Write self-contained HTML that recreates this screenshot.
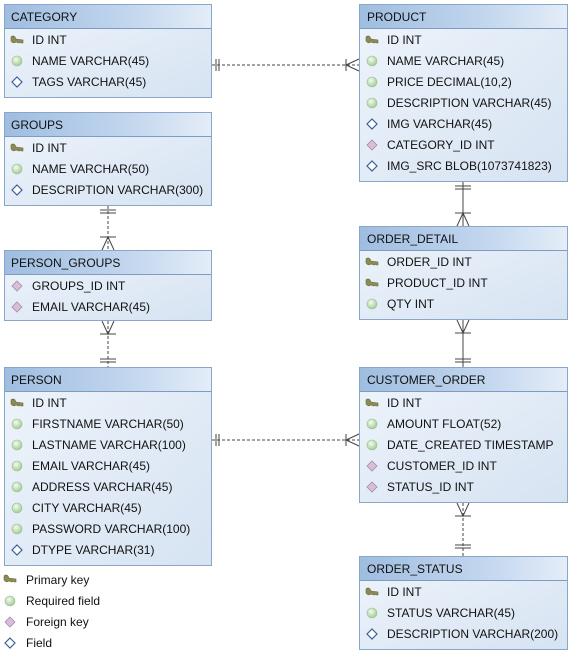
<!DOCTYPE html>
<html><head><meta charset="utf-8"><style>
html,body{margin:0;padding:0;background:#fff;}
svg{display:block;}
text{font-family:"Liberation Sans",Arial,sans-serif;font-size:12px;fill:#111;}
</style></head><body>
<svg width="573" height="653" viewBox="0 0 573 653" xmlns="http://www.w3.org/2000/svg">
<defs>
<linearGradient id="hd" x1="0" y1="0" x2="1" y2="0">
<stop offset="0" stop-color="#9fbde0"/><stop offset="0.6" stop-color="#c2d6ee"/><stop offset="1" stop-color="#e4edf8"/></linearGradient>
<linearGradient id="bd" x1="0" y1="0" x2="1" y2="1">
<stop offset="0" stop-color="#eef4fb"/><stop offset="1" stop-color="#d6e3f2"/></linearGradient>
<radialGradient id="gr" cx="0.4" cy="0.35" r="0.7"><stop offset="0" stop-color="#f4fbef"/><stop offset="1" stop-color="#9cc88c"/></radialGradient>
<symbol id="key" viewBox="0 0 14 10" width="14" height="10">
<path d="M1 2 Q3 0 5 2 L6 4 L13 5 L13 8 L11 8 L10 7 L9 8 L6 7 Q3 9 1 6 Z" fill="#8c8a55" stroke="#6d6b3e" stroke-width="0.6"/></symbol>
<symbol id="req" viewBox="0 0 12 12" width="12" height="12"><circle cx="6" cy="6" r="5" fill="url(#gr)" stroke="#9bbd90" stroke-width="0.6"/></symbol>
<symbol id="fk" viewBox="0 0 12 12" width="12" height="12"><path d="M6 1 L11 6 L6 11 L1 6 Z" fill="#d8bfd8" stroke="#a88aa8" stroke-width="0.8"/></symbol>
<symbol id="fld" viewBox="0 0 12 12" width="12" height="12"><path d="M6 1 L11 6 L6 11 L1 6 Z" fill="#fff" stroke="#3a5f9a" stroke-width="1.2"/></symbol>
</defs>

<g stroke="#444" stroke-width="1" fill="none">
<line x1="212" y1="65" x2="359" y2="65" stroke-dasharray="3,2"/>
<line x1="216" y1="59" x2="216" y2="71"/><line x1="219" y1="59" x2="219" y2="71"/>
<line x1="346" y1="59" x2="346" y2="71"/><path d="M359 59 L346 65 L359 71"/>
<line x1="212" y1="440" x2="359" y2="440" stroke-dasharray="3,2"/>
<line x1="216" y1="434" x2="216" y2="446"/><line x1="219" y1="434" x2="219" y2="446"/>
<line x1="346" y1="434" x2="346" y2="446"/><path d="M359 434 L346 440 L359 446"/>
<line x1="108" y1="206" x2="108" y2="250" stroke-dasharray="3,2"/>
<line x1="100" y1="210" x2="116" y2="210"/><line x1="100" y1="213" x2="116" y2="213"/>
<line x1="100" y1="237" x2="116" y2="237"/><path d="M102 250 L108 237 L114 250"/>
<line x1="108" y1="321" x2="108" y2="367" stroke-dasharray="3,2"/>
<path d="M102 321 L108 334 L114 321"/><line x1="100" y1="334" x2="116" y2="334"/>
<line x1="100" y1="359" x2="116" y2="359"/><line x1="100" y1="362" x2="116" y2="362"/>
<line x1="463" y1="182" x2="463" y2="226"/>
<line x1="455" y1="186" x2="471" y2="186"/><line x1="455" y1="189" x2="471" y2="189"/>
<line x1="455" y1="213" x2="471" y2="213"/><path d="M457 226 L463 213 L469 226"/>
<line x1="463" y1="320" x2="463" y2="367"/>
<path d="M457 320 L463 333 L469 320"/><line x1="455" y1="333" x2="471" y2="333"/>
<line x1="455" y1="359" x2="471" y2="359"/><line x1="455" y1="362" x2="471" y2="362"/>
<line x1="463" y1="503" x2="463" y2="556" stroke-dasharray="3,2"/>
<path d="M457 503 L463 516 L469 503"/><line x1="455" y1="516" x2="471" y2="516"/>
<line x1="455" y1="545" x2="471" y2="545"/><line x1="455" y1="548" x2="471" y2="548"/>
</g>

<g>
<rect x="4.5" y="4.5" width="207" height="93" fill="url(#bd)" stroke="#8aa6c8"/>
<rect x="5" y="5" width="206" height="23" fill="url(#hd)"/><line x1="5" y1="28.5" x2="211" y2="28.5" stroke="#7e9cc2"/>
<text x="11" y="21">CATEGORY</text>
<use href="#key" x="10" y="35"/><text x="32" y="44">ID INT</text>
<use href="#req" x="11" y="55"/><text x="32" y="65">NAME VARCHAR(45)</text>
<use href="#fld" x="11" y="76"/><text x="32" y="86">TAGS VARCHAR(45)</text>
</g>
<g>
<rect x="4.5" y="112.5" width="207" height="93" fill="url(#bd)" stroke="#8aa6c8"/>
<rect x="5" y="113" width="206" height="23" fill="url(#hd)"/><line x1="5" y1="136.5" x2="211" y2="136.5" stroke="#7e9cc2"/>
<text x="11" y="129">GROUPS</text>
<use href="#key" x="10" y="143"/><text x="32" y="152">ID INT</text>
<use href="#req" x="11" y="163"/><text x="32" y="173">NAME VARCHAR(50)</text>
<use href="#fld" x="11" y="184"/><text x="32" y="194">DESCRIPTION VARCHAR(300)</text>
</g>
<g>
<rect x="4.5" y="250.5" width="207" height="70" fill="url(#bd)" stroke="#8aa6c8"/>
<rect x="5" y="251" width="206" height="23" fill="url(#hd)"/><line x1="5" y1="274.5" x2="211" y2="274.5" stroke="#7e9cc2"/>
<text x="11" y="267">PERSON_GROUPS</text>
<use href="#fk" x="11" y="280"/><text x="32" y="290">GROUPS_ID INT</text>
<use href="#fk" x="11" y="301"/><text x="32" y="311">EMAIL VARCHAR(45)</text>
</g>
<g>
<rect x="4.5" y="367.5" width="207" height="198" fill="url(#bd)" stroke="#8aa6c8"/>
<rect x="5" y="368" width="206" height="23" fill="url(#hd)"/><line x1="5" y1="391.5" x2="211" y2="391.5" stroke="#7e9cc2"/>
<text x="11" y="384">PERSON</text>
<use href="#key" x="10" y="398"/><text x="32" y="407">ID INT</text>
<use href="#req" x="11" y="418"/><text x="32" y="428">FIRSTNAME VARCHAR(50)</text>
<use href="#req" x="11" y="439"/><text x="32" y="449">LASTNAME VARCHAR(100)</text>
<use href="#req" x="11" y="460"/><text x="32" y="470">EMAIL VARCHAR(45)</text>
<use href="#req" x="11" y="481"/><text x="32" y="491">ADDRESS VARCHAR(45)</text>
<use href="#req" x="11" y="502"/><text x="32" y="512">CITY VARCHAR(45)</text>
<use href="#req" x="11" y="523"/><text x="32" y="533">PASSWORD VARCHAR(100)</text>
<use href="#fld" x="11" y="544"/><text x="32" y="554">DTYPE VARCHAR(31)</text>
</g>
<g>
<rect x="359.5" y="4.5" width="208" height="177" fill="url(#bd)" stroke="#8aa6c8"/>
<rect x="360" y="5" width="207" height="23" fill="url(#hd)"/><line x1="360" y1="28.5" x2="567" y2="28.5" stroke="#7e9cc2"/>
<text x="367" y="21">PRODUCT</text>
<use href="#key" x="365" y="35"/><text x="387" y="44">ID INT</text>
<use href="#req" x="366" y="55"/><text x="387" y="65">NAME VARCHAR(45)</text>
<use href="#req" x="366" y="76"/><text x="387" y="86">PRICE DECIMAL(10,2)</text>
<use href="#req" x="366" y="97"/><text x="387" y="107">DESCRIPTION VARCHAR(45)</text>
<use href="#fld" x="366" y="118"/><text x="387" y="128">IMG VARCHAR(45)</text>
<use href="#fk" x="366" y="139"/><text x="387" y="149">CATEGORY_ID INT</text>
<use href="#fld" x="366" y="160"/><text x="387" y="170">IMG_SRC BLOB(1073741823)</text>
</g>
<g>
<rect x="359.5" y="226.5" width="208" height="93" fill="url(#bd)" stroke="#8aa6c8"/>
<rect x="360" y="227" width="207" height="23" fill="url(#hd)"/><line x1="360" y1="250.5" x2="567" y2="250.5" stroke="#7e9cc2"/>
<text x="367" y="243">ORDER_DETAIL</text>
<use href="#key" x="365" y="257"/><text x="387" y="266">ORDER_ID INT</text>
<use href="#key" x="365" y="278"/><text x="387" y="287">PRODUCT_ID INT</text>
<use href="#req" x="366" y="298"/><text x="387" y="308">QTY INT</text>
</g>
<g>
<rect x="359.5" y="367.5" width="208" height="135" fill="url(#bd)" stroke="#8aa6c8"/>
<rect x="360" y="368" width="207" height="23" fill="url(#hd)"/><line x1="360" y1="391.5" x2="567" y2="391.5" stroke="#7e9cc2"/>
<text x="367" y="384">CUSTOMER_ORDER</text>
<use href="#key" x="365" y="398"/><text x="387" y="407">ID INT</text>
<use href="#req" x="366" y="418"/><text x="387" y="428">AMOUNT FLOAT(52)</text>
<use href="#req" x="366" y="439"/><text x="387" y="449">DATE_CREATED TIMESTAMP</text>
<use href="#fk" x="366" y="460"/><text x="387" y="470">CUSTOMER_ID INT</text>
<use href="#fk" x="366" y="481"/><text x="387" y="491">STATUS_ID INT</text>
</g>
<g>
<rect x="359.5" y="556.5" width="208" height="93" fill="url(#bd)" stroke="#8aa6c8"/>
<rect x="360" y="557" width="207" height="23" fill="url(#hd)"/><line x1="360" y1="580.5" x2="567" y2="580.5" stroke="#7e9cc2"/>
<text x="367" y="573">ORDER_STATUS</text>
<use href="#key" x="365" y="587"/><text x="387" y="596">ID INT</text>
<use href="#req" x="366" y="607"/><text x="387" y="617">STATUS VARCHAR(45)</text>
<use href="#fld" x="366" y="628"/><text x="387" y="638">DESCRIPTION VARCHAR(200)</text>
</g>
<use href="#key" x="3" y="574"/><text x="26" y="584">Primary key</text>
<use href="#req" x="4" y="595"/><text x="26" y="605">Required field</text>
<use href="#fk" x="4" y="616"/><text x="26" y="626">Foreign key</text>
<use href="#fld" x="4" y="637"/><text x="26" y="647">Field</text>
</svg>
</body></html>
